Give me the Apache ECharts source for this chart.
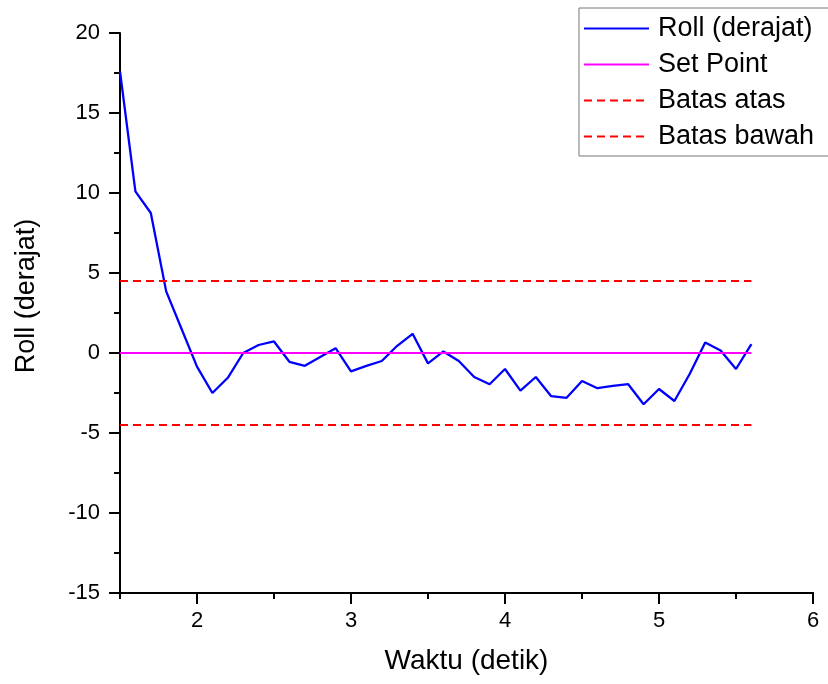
<!DOCTYPE html>
<html><head><meta charset="utf-8">
<script src="https://cdn.jsdelivr.net/npm/echarts@6/dist/echarts.min.js"></script>
<style>html,body{margin:0;padding:0;background:#fff}#c{width:828px;height:684px}</style>
</head><body><div id="c"></div>
<script>
// Data
const timeSec = [1.5,1.6,1.7,1.8,1.9,2.0,2.1,2.2,2.3,2.4,2.5,2.6,2.7,2.8,2.9,3.0,3.1,3.2,3.3,3.4,3.5,3.6,3.7,3.8,3.9,4.0,4.1,4.2,4.3,4.4,4.5,4.6,4.7,4.8,4.9,5.0,5.1,5.2,5.3,5.4,5.5,5.6];
const rollDeg = [17.6,10.1,8.75,3.85,1.5,-0.85,-2.5,-1.55,0.0,0.5,0.72,-0.55,-0.8,-0.25,0.3,-1.15,-0.8,-0.5,0.45,1.2,-0.65,0.1,-0.5,-1.5,-1.95,-1.0,-2.35,-1.5,-2.7,-2.8,-1.75,-2.2,-2.05,-1.95,-3.2,-2.25,-3.0,-1.3,0.65,0.15,-1.0,0.55];
const refLineX = [1.5, 5.6];
const setPointY = [0, 0];
const upperLimitY = [4.5, 4.5];
const lowerLimitY = [-4.5, -4.5];
const xRange = [1.5, 6];      // plotted time range
const xLabelRange = [2, 6];   // labelled (major tick) range
const seriesNames = ['Roll (derajat)', 'Set Point', 'Batas atas', 'Batas bawah'];

const FONT = "'Liberation Sans', Arial, sans-serif";
const pairs = (xs, ys) => xs.map((x, i) => [x, ys[i]]);

const G_LEFT = 120, G_RIGHT = 15, G_TOP = 33, G_BOTTOM = 91, W = 828;
const plotW = W - G_LEFT - G_RIGHT;
// second (major-tick) grid starts where x = 2 falls on the main grid
const majorLeft = G_LEFT + plotW * (xLabelRange[0] - xRange[0]) / (xRange[1] - xRange[0]);

const chart = echarts.init(document.getElementById('c'), null, {renderer: 'canvas'});
chart.setOption({
  animation: false,
  backgroundColor: '#fff',
  textStyle: {fontFamily: FONT, color: '#000'},
  grid: [
    {left: G_LEFT, right: G_RIGHT, top: G_TOP, bottom: G_BOTTOM, containLabel: false},
    {left: majorLeft, right: G_RIGHT, top: G_TOP, bottom: G_BOTTOM, containLabel: false}
  ],
  legend: {
    orient: 'vertical', left: 579, top: 8,
    padding: [5, 16, 4, 4],
    itemWidth: 65, itemHeight: 14, itemGap: 5,
    borderColor: '#777', borderWidth: 1,
    itemStyle: {opacity: 0},
    textStyle: {fontSize: 27, lineHeight: 31, color: '#000', fontFamily: FONT, padding: [0, 0, 0, 4]},
    data: seriesNames
  },
  xAxis: [{
    gridIndex: 0, type: 'value', min: xRange[0], max: xRange[1], interval: 0.5,
    name: 'Waktu (detik)', nameLocation: 'middle', nameGap: 54,
    nameTextStyle: {fontSize: 28, color: '#000', fontFamily: FONT},
    axisLine: {show: true, onZero: false, lineStyle: {color: '#000', width: 2}},
    axisTick: {show: true, length: 6, lineStyle: {color: '#000', width: 2}},
    axisLabel: {show: false},
    splitLine: {show: false}
  }, {
    gridIndex: 1, type: 'value', min: xLabelRange[0], max: xLabelRange[1], interval: 1,
    axisLine: {show: true, onZero: false, lineStyle: {color: '#000', width: 2}},
    axisTick: {show: true, length: 11, lineStyle: {color: '#000', width: 2}},
    axisLabel: {fontSize: 22, color: '#000', margin: 17, fontFamily: FONT, showMinLabel: true, showMaxLabel: true},
    splitLine: {show: false}
  }],
  yAxis: [{
    gridIndex: 0, type: 'value', min: -15, max: 20, interval: 5,
    name: 'Roll (derajat)', nameLocation: 'middle', nameGap: 80,
    nameTextStyle: {fontSize: 27, color: '#000', fontFamily: FONT, padding: [0, 0, 0, 34]},
    axisLine: {show: true, onZero: false, lineStyle: {color: '#000', width: 2}},
    axisTick: {show: true, length: 11, lineStyle: {color: '#000', width: 2}},
    minorTick: {show: true, splitNumber: 2, length: 6, lineStyle: {color: '#000', width: 2}},
    axisLabel: {fontSize: 22, color: '#000', margin: 20, fontFamily: FONT},
    splitLine: {show: false},
    minorSplitLine: {show: false}
  }, {
    gridIndex: 1, type: 'value', min: -15, max: 20, show: false
  }],
  series: [
    {name: seriesNames[0], type: 'line', data: pairs(timeSec, rollDeg), symbol: 'none',
     lineStyle: {color: '#0000ff', width: 2.3}, itemStyle: {color: '#0000ff'}},
    {name: seriesNames[1], type: 'line', data: pairs(refLineX, setPointY), symbol: 'none',
     lineStyle: {color: '#ff00ff', width: 2}, itemStyle: {color: '#ff00ff'}},
    {name: seriesNames[2], type: 'line', data: pairs(refLineX, upperLimitY), symbol: 'none',
     lineStyle: {color: '#ff0000', width: 2, type: [8, 5]}, itemStyle: {color: '#ff0000'}},
    {name: seriesNames[3], type: 'line', data: pairs(refLineX, lowerLimitY), symbol: 'none',
     lineStyle: {color: '#ff0000', width: 2, type: [8, 5]}, itemStyle: {color: '#ff0000'}}
  ]
});
</script></body></html>
